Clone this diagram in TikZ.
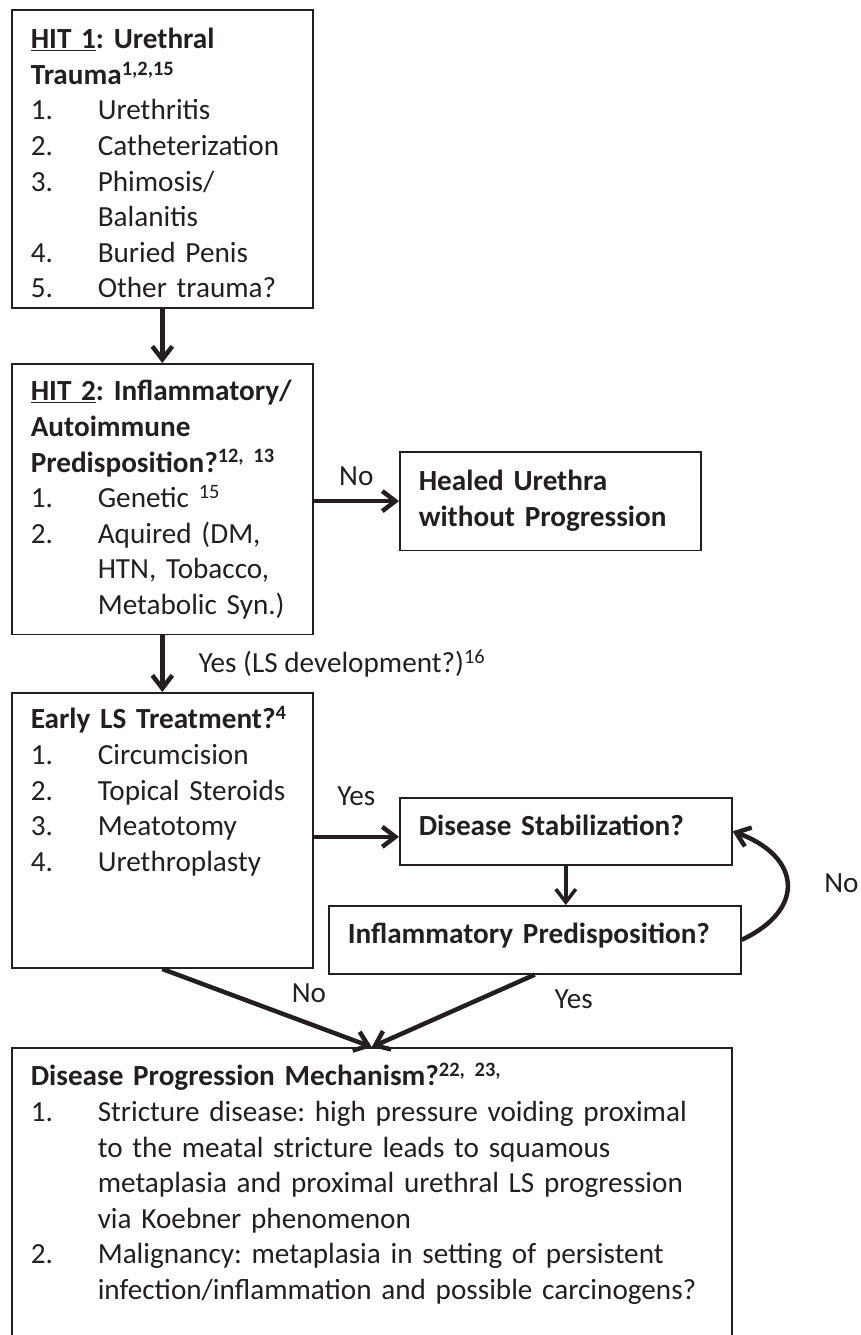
\documentclass[tikz,border=0pt]{standalone}
\usepackage{fontspec}
\setmainfont{Carlito}
\usepackage{tikz}
\usetikzlibrary{arrows.meta,positioning}
\definecolor{ink}{HTML}{231F20}
\frenchspacing
\newcommand{\itm}[2]{\par\noindent\hangindent=67pt\hangafter=1\makebox[67pt][l]{#1}#2\par}
\newcommand{\topgap}[1]{\rule{0pt}{#1}}
\newcommand{\botgap}[1]{\rule[-#1]{0pt}{0pt}}

\begin{document}
\begin{tikzpicture}[x=1pt, y=-1pt,
    box/.style={draw=ink, line width=1.6pt, anchor=north west, inner xsep=19pt, inner ysep=8pt, text width=#1, align=left, text=ink, font=\fontsize{29.2}{35.6}\selectfont},
    box/.default=263pt,
    lbl/.style={text=ink, inner sep=2pt, font=\fontsize{29.2}{34}\selectfont},
    arrow/.style={-{Straight Barb[length=13pt, width=20pt]}, line width=4.5pt, draw=ink}
]
    \useasboundingbox (0,0) rectangle (861,1335);

    \node[box] (hit1) at (11,9) {\noindent\topgap{31pt}\textbf{\mbox{\underline{HIT 1}: Urethral}\newline Trauma\textsuperscript{1,2,15}}
        \itm{1.}{Urethritis}
        \itm{2.}{Catheterization}
        \itm{3.}{Phimosis/\newline Balanitis}
        \itm{4.}{Buried Penis}
        \itm{5.}{Other trauma?\botgap{2pt}}};
    \node[box] (hit2) at (11,363) {\noindent\topgap{29pt}\textbf{\mbox{\underline{HIT 2}: Inflammatory/}\newline Autoimmune\newline \mbox{Predisposition?\textsuperscript{12, 13}}}
        \itm{1.}{Genetic \textsuperscript{15}}
        \itm{2.}{Aquired (DM,\newline HTN, Tobacco,\newline Metabolic Syn.)\botgap{12pt}}};
    \node[box] (healed) at (399,451) {\noindent\topgap{31pt}\textbf{Healed Urethra\newline without Progression}\botgap{16pt}};
    \node[box] (hit3) at (11,692) {\noindent\topgap{28pt}\textbf{Early LS Treatment?\textsuperscript{4}}
        \itm{1.}{Circumcision}
        \itm{2.}{\mbox{Topical Steroids}}
        \itm{3.}{Meatotomy}
        \itm{4.}{Urethroplasty\botgap{89pt}}};
    \node[box=294pt] (stab) at (399,797) {\noindent\topgap{30pt}\textbf{Disease Stabilization?}\botgap{21pt}};
    \node[box=374pt] (infl) at (328,905) {\noindent\topgap{30pt}\textbf{Inflammatory Predisposition?}\botgap{22pt}};
    \node[box=682pt] (prog) at (11,1047) {\noindent\topgap{30pt}\textbf{Disease Progression Mechanism?\textsuperscript{22, 23,}}
        \itm{1.}{Stricture disease: high pressure voiding proximal\newline to the meatal stricture leads to squamous\newline metaplasia and proximal urethral LS progression\newline via Koebner phenomenon}
        \itm{2.}{Malignancy: metaplasia in setting of persistent\newline infection/inflammation and possible carcinogens?\botgap{60pt}}};

    \draw[arrow] (hit1) -- (hit2);
    \draw[arrow] (healed.west -| hit2.east) -- node[lbl, above=11pt]{No} (healed.west);
    \draw[arrow] (hit2) -- node[lbl, anchor=west, xshift=32pt]{Yes (LS development?)\textsuperscript{16}} (hit3);
    \draw[arrow] ([yshift=-5.5pt]stab.west -| hit3.east) -- node[lbl, above=27pt]{Yes} ([yshift=-5.5pt]stab.west);
    \draw[arrow, line width=3.5pt] (stab.south) -- (stab.south |- infl.north);
    \draw[arrow] (infl.east) to[out=25, in=-20, looseness=1.7] node[lbl, pos=0.5, anchor=west, inner sep=0pt, xshift=35pt]{No} (stab.east);
    \draw[arrow] (hit3.south) -- node[lbl, pos=0.7, above=17pt]{No} (prog.north);
    \draw[arrow] (infl.south) -- node[lbl, pos=0.15, anchor=west, xshift=40pt, yshift=-14pt]{Yes} (prog.north);
\end{tikzpicture}
\end{document}
